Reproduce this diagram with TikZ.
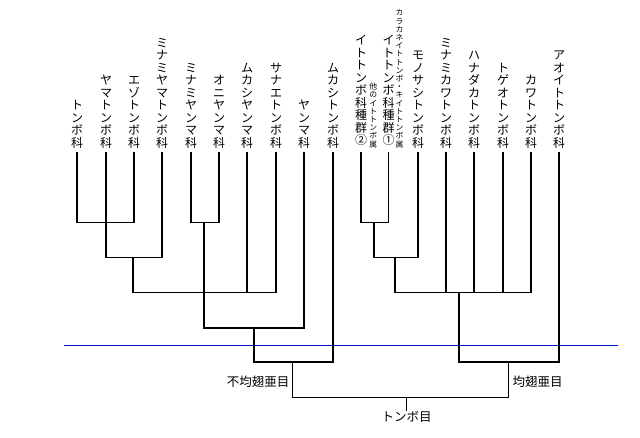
\documentclass[tikz,border=0pt]{standalone}
\usepackage{fontspec}
\newfontfamily\jp{Noto Sans CJK JP}
\begin{document}
\begin{tikzpicture}[x=1pt,y=-1pt,
  leaf/.style={anchor=south, inner sep=0pt, align=center, font=\jp\fontsize{12}{12.5}\selectfont},
  note/.style={anchor=south, inner sep=0pt, align=center, font=\jp\fontsize{7.8}{8.2}\selectfont},
  grp/.style={inner sep=0pt, font=\jp\fontsize{12.5}{14}\selectfont},
  br/.style={line width=1.3pt, line cap=rect, black},
  sep/.style={line width=1pt, color={rgb,255:red,0;green,20;blue,200}}]
\useasboundingbox (0,0) rectangle (640,438);
% ---- leaf labels ----
\node[leaf] (lA1) at (77,148.5) {ト\\ン\\ボ\\科};
\node[leaf] (lA2) at (106,148.5) {ヤ\\マ\\ト\\ン\\ボ\\科};
\node[leaf] (lA3) at (134,148.5) {エ\\ゾ\\ト\\ン\\ボ\\科};
\node[leaf] (lA4) at (162,148.5) {ミ\\ナ\\ミ\\ヤ\\マ\\ト\\ン\\ボ\\科};
\node[leaf] (lA5) at (191,148.5) {ミ\\ナ\\ミ\\ヤ\\ン\\マ\\科};
\node[leaf] (lA6) at (219,148.5) {オ\\ニ\\ヤ\\ン\\マ\\科};
\node[leaf] (lA7) at (247,148.5) {ム\\カ\\シ\\ヤ\\ン\\マ\\科};
\node[leaf] (lA8) at (276,148.5) {サ\\ナ\\エ\\ト\\ン\\ボ\\科};
\node[leaf] (lA9) at (304,148.5) {ヤ\\ン\\マ\\科};
\node[leaf] (lA10) at (333,148.5) {ム\\カ\\シ\\ト\\ン\\ボ\\科};
\node[leaf] (lB1) at (361,146) {イ\\ト\\ト\\ン\\ボ\\科\\種\\群\\②};
\node[note] (nB1) at (373.3,148) {他\\の\\イ\\ト\\ト\\ン\\ボ\\属};
\node[leaf] (lB2) at (388.5,146) {イ\\ト\\ト\\ン\\ボ\\科\\種\\群\\①};
\node[note] (nB2) at (399.5,148) {カ\\ラ\\カ\\ネ\\イ\\ト\\ト\\ン\\ボ\\・\\キ\\イ\\ト\\ト\\ン\\ボ\\属};
\node[leaf] (lB3) at (418,148.5) {モ\\ノ\\サ\\シ\\ト\\ン\\ボ\\科};
\node[leaf] (lB4) at (446,148.5) {ミ\\ナ\\ミ\\カ\\ワ\\ト\\ン\\ボ\\科};
\node[leaf] (lB5) at (474,148.5) {ハ\\ナ\\ダ\\カ\\ト\\ン\\ボ\\科};
\node[leaf] (lB6) at (503,148.5) {ト\\ゲ\\オ\\ト\\ン\\ボ\\科};
\node[leaf] (lB7) at (531,148.5) {カ\\ワ\\ト\\ン\\ボ\\科};
\node[leaf] (lB8) at (559,148.5) {ア\\オ\\イ\\ト\\ト\\ン\\ボ\\科};
% ---- leaf line tops ----
\foreach \n/\x in {A1/77,A2/106,A3/134,A4/162,A5/191,A6/219,A7/247,A8/276,A9/304,A10/333,
                   B1/361,B2/388.5,B3/418,B4/446,B5/474,B6/503,B7/531,B8/559}
  \coordinate (t\n) at (\x,153);
% ---- junctions ----
\coordinate (n1) at (106,222.7);
\coordinate (n2) at (133,257.7);
\coordinate (n3) at (204,222.7);
\coordinate (n5) at (204,292.7);
\coordinate (n6) at (254,328);
\coordinate (n7) at (292.7,362);
\coordinate (m1) at (374,222.7);
\coordinate (m2) at (395,257.7);
\coordinate (m3) at (459,292.7);
\coordinate (m4) at (508.3,362);
\coordinate (root) at (406.7,397.7);
\coordinate (rootEnd) at (406.7,410);
% ---- separator ----
\coordinate (sepL) at (64,345.3);
\coordinate (sepR) at (617.7,345.3);
\draw[sep] (sepL) -- (sepR);
% ---- branches: left ----
\draw[br] (tA1) |- (n1) -| (tA3);
\draw[br] (tA2) |- (n2) -| (tA4);
\draw[br] (tA5) |- (n3) -| (tA6);
\draw[br] (n2) |- (n5) -| (tA8);
\draw[br] (tA7) -- (tA7 |- n5);
\draw[br] (n3) |- (n6) -| (tA9);
\draw[br] (n6) |- (n7) -| (tA10);
% ---- branches: right ----
\draw[br] (tB1) |- (m1) -| (tB2);
\draw[br] (m1) |- (m2) -| (tB3);
\draw[br] (m2) |- (m3) -| (tB7);
\draw[br] (tB4) -- (tB4 |- m3);
\draw[br] (tB5) -- (tB5 |- m3);
\draw[br] (tB6) -- (tB6 |- m3);
\draw[br] (m3) |- (m4) -| (tB8);
% ---- root ----
\draw[br] (n7) |- (root) -| (m4);
\draw[br] (root) -- (rootEnd);
% ---- group labels ----
\node[grp, anchor=east] (gA) at (289.5,382) {不均翅亜目};
\node[grp, anchor=west] (gB) at (512.5,382) {均翅亜目};
\node[grp, anchor=north] (gR) at (406.7,411.5) {トンボ目};
\end{tikzpicture}
\end{document}
